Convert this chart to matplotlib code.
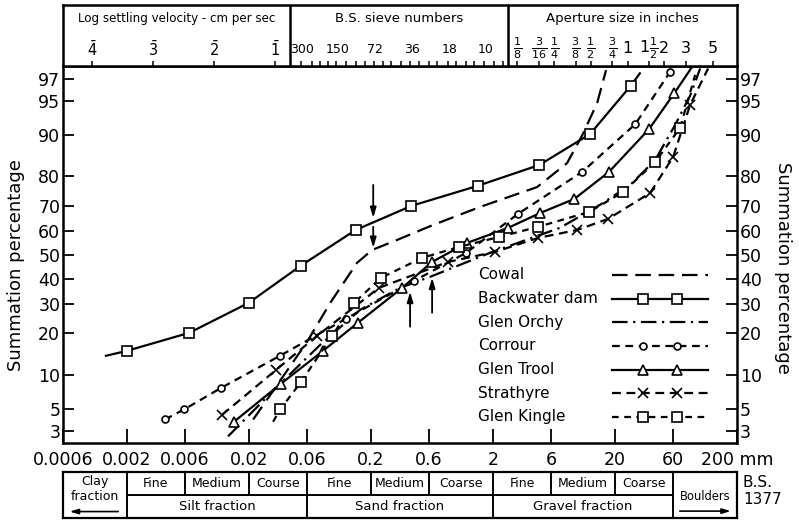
import math
from statistics import NormalDist
import numpy as np
import matplotlib
matplotlib.use('Agg')
import matplotlib.pyplot as plt
from matplotlib.ticker import NullLocator

plt.rcParams['font.family'] = 'DejaVu Sans'
plt.rcParams['mathtext.fontset'] = 'dejavusans'

# particle size (mm) and summation percentage passing, one pair per site
cowal_d = [0.0217, 0.06, 0.093, 0.154, 0.205, 0.33, 0.65, 1.57, 4.6, 8.1, 10.8, 14.3, 16.9]
cowal_p = [3.9, 17.6, 30.4, 46.6, 52.1, 56.4, 62.6, 69.6, 76.6, 83.7, 90.0, 94.8, 97.6]

backwater_d = [0.00135, 0.002, 0.0065, 0.02, 0.053, 0.15, 0.43, 1.5, 4.8, 12.5, 27, 32]
backwater_p = [14.0, 15.2, 20.2, 30.4, 45.3, 60.5, 70.0, 77.0, 83.2, 90.2, 96.5, 97.4]

orchy_d = [0.0135, 0.0374, 0.077, 0.163, 0.347, 0.611, 1.9, 7.1, 15.1, 26.7, 42.7, 62.3, 82.7, 99.8]
orchy_p = [2.6, 8.7, 16.8, 27.8, 36.2, 40.7, 50.9, 61.4, 70.4, 77.3, 84.5, 91.8, 95.6, 97.7]

corrour_d = [0.0041, 0.0059, 0.0118, 0.036, 0.125, 0.45, 1.21, 3.22, 10.8, 29.3, 56.7]
corrour_p = [3.9, 4.9, 7.7, 14.0, 24.7, 39.0, 50.9, 67.0, 81.3, 91.9, 97.5]

trool_d = [0.0151, 0.0367, 0.081, 0.157, 0.361, 0.635, 1.23, 2.67, 4.88, 9.27, 17.9, 38.1, 61.1, 85.9]
trool_p = [3.7, 8.4, 15.2, 23.4, 36.2, 47.0, 55.1, 61.4, 67.3, 72.5, 81.3, 91.1, 95.8, 97.8]

strathyre_d = [0.0121, 0.0334, 0.0725, 0.233, 0.859, 2.09, 4.69, 9.8, 17.6, 38.8, 60, 82.7, 116]
strathyre_p = [4.35, 10.9, 19.3, 36.2, 47.0, 51.3, 57.2, 60.5, 65.0, 74.6, 85.3, 94.6, 97.7]

kingle_d = [0.0316, 0.0361, 0.0536, 0.0962, 0.146, 0.242, 0.526, 1.057, 2.25, 4.69, 12.3, 23.4, 42.7, 68.4, 90.8]
kingle_p = [3.7, 4.9, 8.7, 19.3, 30.4, 40.3, 48.7, 53.4, 57.6, 61.8, 67.7, 75.0, 84.0, 91.3, 97.3]

sites = ['Cowal', 'Backwater dam', 'Glen Orchy', 'Corrour', 'Glen Trool', 'Strathyre', 'Glen Kingle']

# arrows marking the breaks in the curves
arrow_d = [0.209, 0.209, 0.419, 0.635]
arrow_from = [77.3, 61.8, 22.1, 26.8]
arrow_to = [65.4, 53.0, 34.6, 40.3]

x_ticks = [0.0006, 0.002, 0.006, 0.02, 0.06, 0.2, 0.6, 2, 6, 20, 60, 200]
x_labels = ['0.0006', '0.002', '0.006', '0.02', '0.06', '0.2', '0.6', '2', '6', '20', '60', '200 mm']
y_ticks = [3, 5, 10, 20, 30, 40, 50, 60, 70, 80, 90, 95, 97]

# header scales
velocity_d = [0.00104, 0.0033, 0.0104, 0.033]
velocity_labels = [r'$\bar{4}$', r'$\bar{3}$', r'$\bar{2}$', r'$\bar{1}$']
sieve_d = [0.053, 0.066, 0.076, 0.089, 0.104, 0.124, 0.152, 0.178, 0.211, 0.251, 0.295,
           0.353, 0.422, 0.500, 0.600, 0.699, 0.853, 1.003, 1.204, 1.405, 1.676, 2.057, 2.411]
sieve_label_d = [0.053, 0.104, 0.211, 0.422, 0.853, 1.676]
sieve_labels = ['300', '150', '72', '36', '18', '10']
inch_sizes = [1/8, 3/16, 1/4, 3/8, 1/2, 3/4, 1, 1.5, 2, 3, 5]
inch_labels = [r'$\frac{1}{8}$', r'$\frac{3}{16}$', r'$\frac{1}{4}$', r'$\frac{3}{8}$',
               r'$\frac{1}{2}$', r'$\frac{3}{4}$', '1', r'$1\frac{1}{2}$', '2', '3', '5']

# B.S. 1377 classification limits (mm)
class_edges = [0.0006, 0.002, 0.006, 0.02, 0.06, 0.2, 0.6, 2, 6, 20, 60, 200]
sub_names = ['Fine', 'Medium', 'Course', 'Fine', 'Medium', 'Coarse', 'Fine', 'Medium', 'Coarse']
main_names = ['Silt fraction', 'Sand fraction', 'Gravel fraction']

_nd = NormalDist()


def prob_fwd(p):
    p = np.clip(np.asarray(p, dtype=float), 1e-4, 100 - 1e-4)
    return np.vectorize(_nd.inv_cdf, otypes=[float])(p / 100.0)


def prob_inv(z):
    return np.vectorize(_nd.cdf, otypes=[float])(np.asarray(z, dtype=float)) * 100.0


styles = {
    'Cowal': dict(ls=(0, (7, 3.5)), marker=None, ms=0),
    'Backwater dam': dict(ls='-', marker='s', ms=7.5),
    'Glen Orchy': dict(ls=(0, (7, 2.5, 1, 2.5)), marker=None, ms=0),
    'Corrour': dict(ls=(0, (3.5, 2.5)), marker='o', ms=5),
    'Glen Trool': dict(ls='-', marker='^', ms=7.5),
    'Strathyre': dict(ls=(0, (4, 2.5)), marker='x', ms=6.5),
    'Glen Kingle': dict(ls=(0, (3, 2.5)), marker='s', ms=7),
}
series = {
    'Cowal': (cowal_d, cowal_p, None),
    'Backwater dam': (backwater_d, backwater_p, slice(1, 11)),
    'Glen Orchy': (orchy_d, orchy_p, None),
    'Corrour': (corrour_d, corrour_p, slice(0, None)),
    'Glen Trool': (trool_d, trool_p, slice(0, 13)),
    'Strathyre': (strathyre_d, strathyre_p, slice(0, 12)),
    'Glen Kingle': (kingle_d, kingle_p, slice(1, 14)),
}

W, H = 799, 521
fig = plt.figure(figsize=(W / 100, H / 100), dpi=100)
L, R, T, B = 63, 737, 66, 443
ax = fig.add_axes([L / W, 1 - B / H, (R - L) / W, (B - T) / H])

ax.set_xscale('log')
ax.set_yscale('function', functions=(prob_fwd, prob_inv))

for name in sites:
    d, p, mk = series[name]
    st = styles[name]
    ax.plot(d, p, color='k', lw=1.6, ls=st['ls'], marker=st['marker'], ms=st['ms'],
            mfc='white', mec='k', mew=1.2, markevery=mk, zorder=3)

for xd, y0, y1 in zip(arrow_d, arrow_from, arrow_to):
    ax.annotate('', xy=(xd, y1), xytext=(xd, y0),
                arrowprops=dict(arrowstyle='-|>,head_length=0.6,head_width=0.18',
                                color='k', lw=1.3, shrinkA=0, shrinkB=0))

# key, labels on the left and line samples on the right
leg_y = np.linspace(0.446, 0.069, 7)
for name, yy in zip(sites, leg_y):
    st = styles[name]
    ax.text(0.616, yy, name, transform=ax.transAxes, fontsize=11, va='center', ha='left')
    ax.plot([0.8145, 0.957], [yy, yy], transform=ax.transAxes, color='k', lw=1.6, ls=st['ls'])
    if st['marker']:
        ax.plot([0.8605, 0.911], [yy, yy], transform=ax.transAxes, ls='none', color='k',
                marker=st['marker'], ms=st['ms'], mfc='white', mec='k', mew=1.2)

ax.set_xlim(0.0006, 200)
ax.set_ylim(2.2, 97.84)
ax.set_xticks(x_ticks, x_labels)
ax.xaxis.set_minor_locator(NullLocator())
ax.set_yticks(y_ticks, [str(v) for v in y_ticks])
ax.yaxis.set_minor_locator(NullLocator())
ax.tick_params(axis='x', direction='in', length=10, width=1.3, labelsize=12.5, pad=6)
ax.tick_params(axis='y', direction='in', length=8, width=1.3, labelsize=12.5, pad=2,
               left=True, right=True, labelleft=True, labelright=True)
for s in ax.spines.values():
    s.set_linewidth(1.8)

fig.text(16 / W, 1 - 265 / H, 'Summation percentage', rotation=90, fontsize=13,
         ha='center', va='center')
fig.text(783 / W, 1 - 268 / H, 'Summation percentage', rotation=270, fontsize=13,
         ha='center', va='center')

# scales along the top
hx = fig.add_axes([L / W, 1 - T / H, (R - L) / W, (T - 5) / H])
hx.set_xscale('log')
hx.set_xlim(0.0006, 200)
hx.set_ylim(0, 1)
hx.tick_params(which='both', length=0, labelbottom=False, labelleft=False)
for s in hx.spines.values():
    s.set_linewidth(1.8)
hx.vlines([0.0435, 2.66], 0, 1, color='k', lw=1.8)
hx.text(math.sqrt(0.0006 * 0.0435), 0.78, 'Log settling velocity - cm per sec',
        ha='center', va='center', fontsize=8.6)
hx.text(math.sqrt(0.0435 * 2.66), 0.78, 'B.S. sieve numbers', ha='center', va='center', fontsize=9.5)
hx.text(math.sqrt(2.66 * 200), 0.78, 'Aperture size in inches', ha='center', va='center', fontsize=9.5)

hx.vlines(velocity_d, 0, 0.08, color='k', lw=1.1)
for xd, lab in zip(velocity_d, velocity_labels):
    hx.text(xd, 0.27, lab, ha='center', va='center', fontsize=10.5)
hx.vlines(sieve_d, 0, 0.08, color='k', lw=1.1)
for xd, lab in zip(sieve_label_d, sieve_labels):
    hx.text(xd * 1.03, 0.27, lab, ha='center', va='center', fontsize=9)
inch_d = [v * 25.4 for v in inch_sizes]
hx.vlines(inch_d, 0, 0.08, color='k', lw=1.1)
for xd, lab in zip(inch_d, inch_labels):
    hx.text(xd, 0.29, lab, ha='center', va='center', fontsize=11.5)

# B.S. 1377 classification along the bottom
tx = fig.add_axes([L / W, 1 - 518 / H, (R - L) / W, 46 / H])
tx.set_xscale('log')
tx.set_xlim(0.0006, 200)
tx.set_ylim(0, 2)
tx.tick_params(which='both', length=0, labelbottom=False, labelleft=False)
for s in tx.spines.values():
    s.set_linewidth(1.6)
tx.vlines([0.002, 0.06, 2, 60], 0, 2, color='k', lw=1.4)
tx.vlines([0.006, 0.02, 0.2, 0.6, 6, 20], 1, 2, color='k', lw=1.4)
tx.hlines(1, 0.002, 60, color='k', lw=1.4)
inner = class_edges[1:-1]
for a, b, lab in zip(inner[:-1], inner[1:], sub_names):
    tx.text(math.sqrt(a * b), 1.5, lab, ha='center', va='center', fontsize=9)
for a, b, lab in zip([0.002, 0.06, 2], [0.06, 2, 60], main_names):
    tx.text(math.sqrt(a * b), 0.5, lab, ha='center', va='center', fontsize=9.5)
tx.text(math.sqrt(0.0006 * 0.002), 1.57, 'Clay', ha='center', va='center', fontsize=9)
tx.text(math.sqrt(0.0006 * 0.002), 0.92, 'fraction', ha='center', va='center', fontsize=9)
tx.annotate('', xy=(0.00068, 0.28), xytext=(0.0017, 0.28),
            arrowprops=dict(arrowstyle='-|>,head_length=0.5,head_width=0.15', color='k',
                            lw=1.2, shrinkA=0, shrinkB=0))
tx.text(math.sqrt(60 * 200), 0.92, 'Boulders', ha='center', va='center', fontsize=8.3)
tx.annotate('', xy=(178, 0.3), xytext=(68, 0.3),
            arrowprops=dict(arrowstyle='-|>,head_length=0.5,head_width=0.15', color='k',
                            lw=1.2, shrinkA=0, shrinkB=0))
fig.text(743 / W, 1 - 491 / H, 'B.S.\n1377', ha='left', va='center', fontsize=11,
         linespacing=1.15)

fig.savefig('out.png', dpi=100)
